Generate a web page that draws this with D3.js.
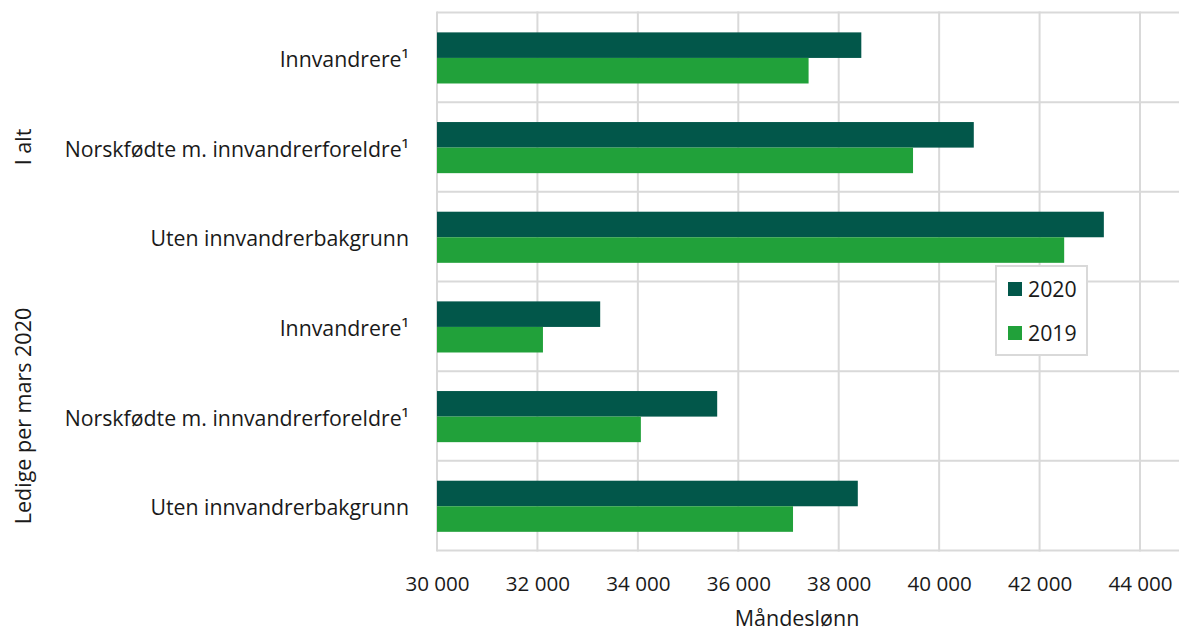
<!DOCTYPE html>
<html>
<head>
<meta charset="utf-8">
<script src="https://cdn.jsdelivr.net/npm/d3@7"></script>
<style>
  html, body { margin: 0; padding: 0; background: #ffffff; }
  svg { display: block; }
  text { font-family: "Open Sans", "Noto Sans", sans-serif; fill: #1a1a1a; }
</style>
</head>
<body>
<svg id="chart" width="1179" height="630"></svg>
<script>
// Monthly wage (Måndeslønn) by immigrant background, 2019 and 2020
const categories = [
  "Innvandrere¹",
  "Norskfødte m. innvandrerforeldre¹",
  "Uten innvandrerbakgrunn",
  "Innvandrere¹",
  "Norskfødte m. innvandrerforeldre¹",
  "Uten innvandrerbakgrunn"
];
const groups = ["I alt", "Ledige per mars 2020"];
const groupOf = [0, 0, 0, 1, 1, 1];
const seriesNames = ["2020", "2019"];
const values2020 = [38450, 40690, 43280, 33250, 35580, 38380];
const values2019 = [37400, 39480, 42490, 32110, 34060, 37090];
const xTicks = [30000, 32000, 34000, 36000, 38000, 40000, 42000, 44000];
const xTitle = "Måndeslønn";
const colors = ["#02574a", "#21a13a"];

const svg = d3.select("#chart");
const plotLeft = 437, plotRight = 1140, plotTop = 12.5, plotBottom = 550.5;

const x = d3.scaleLinear().domain([30000, 44000]).range([plotLeft, plotRight]);
const y = d3.scaleBand().domain(d3.range(categories.length)).range([plotTop, plotBottom]).padding(0);
const groupH = y.bandwidth() * 0.57;
const ySub = d3.scaleBand().domain(seriesNames)
  .range([(y.bandwidth() - groupH) / 2 + 0.6, (y.bandwidth() + groupH) / 2 + 0.6]);

const gridColor = "#d9d9d9";

// Horizontal grid lines at category boundaries
const hLines = d3.range(categories.length + 1).map(i => i === categories.length ? plotBottom : y(i));
svg.append("g").selectAll("line").data(hLines).join("line")
  .attr("x1", plotLeft).attr("x2", 1179)
  .attr("y1", d => d).attr("y2", d => d)
  .attr("stroke", gridColor).attr("stroke-width", 2);

// Vertical grid lines and bottom axis labels
const xAxis = d3.axisBottom(x).tickValues(xTicks).tickSize(0).tickPadding(0)
  .tickFormat(d => d3.format(",")(d).replace(",", " "));
const gx = svg.append("g").attr("transform", `translate(0,${plotBottom})`).call(xAxis);
gx.select(".domain").remove();
gx.attr("font-family", null).attr("font-size", null);
gx.selectAll(".tick text").attr("dy", null).attr("y", 32)
  .attr("dominant-baseline", "central")
  .style("font-size", "20.6px").attr("fill", "#1a1a1a");
svg.append("g").selectAll("line").data(xTicks).join("line")
  .attr("x1", d => x(d)).attr("x2", d => x(d))
  .attr("y1", plotTop - 1).attr("y2", plotBottom + 1)
  .attr("stroke", gridColor).attr("stroke-width", 2);

// Bars
const seriesValues = [values2020, values2019];
const barG = svg.append("g");
seriesNames.forEach((s, si) => {
  barG.append("g").selectAll("rect").data(seriesValues[si]).join("rect")
    .attr("x", x(30000))
    .attr("y", (d, i) => y(i) + ySub(s))
    .attr("width", d => x(d) - x(30000))
    .attr("height", ySub.bandwidth())
    .attr("fill", colors[si]);
});

// Category labels
svg.append("g").selectAll("text").data(categories).join("text")
  .attr("x", 409)
  .attr("y", (d, i) => y(i) + y.bandwidth() / 2 + 1)
  .attr("text-anchor", "end")
  .attr("dominant-baseline", "central")
  .style("font-size", "21.3px")
  .text(d => d);

// Group labels (rotated)
groups.forEach((g, gi) => {
  const idx = d3.range(categories.length).filter(i => groupOf[i] === gi);
  const y0 = y(idx[0]), y1 = y(idx[idx.length - 1]) + y.bandwidth();
  const cy = (y0 + y1) / 2;
  svg.append("text")
    .attr("transform", `translate(22,${cy}) rotate(-90)`)
    .attr("text-anchor", "middle")
    .attr("dominant-baseline", "central")
    .style("font-size", "21.5px")
    .text(g);
});

// Axis title
svg.append("text")
  .attr("x", 797)
  .attr("y", 617)
  .attr("text-anchor", "middle")
  .attr("dominant-baseline", "central")
  .style("font-size", "21.5px")
  .text(xTitle);

// Legend
const legend = svg.append("g").attr("transform", "translate(996,266)");
legend.append("rect")
  .attr("width", 91).attr("height", 89)
  .attr("fill", "#ffffff").attr("stroke", gridColor).attr("stroke-width", 2);
seriesNames.forEach((s, si) => {
  const row = legend.append("g").attr("transform", `translate(12,${16 + si * 44})`);
  row.append("rect").attr("width", 14).attr("height", 14).attr("fill", colors[si]);
  row.append("text").attr("x", 20).attr("y", 6.5)
    .attr("dominant-baseline", "central")
    .style("font-size", "21.3px")
    .text(s);
});
</script>
</body>
</html>
